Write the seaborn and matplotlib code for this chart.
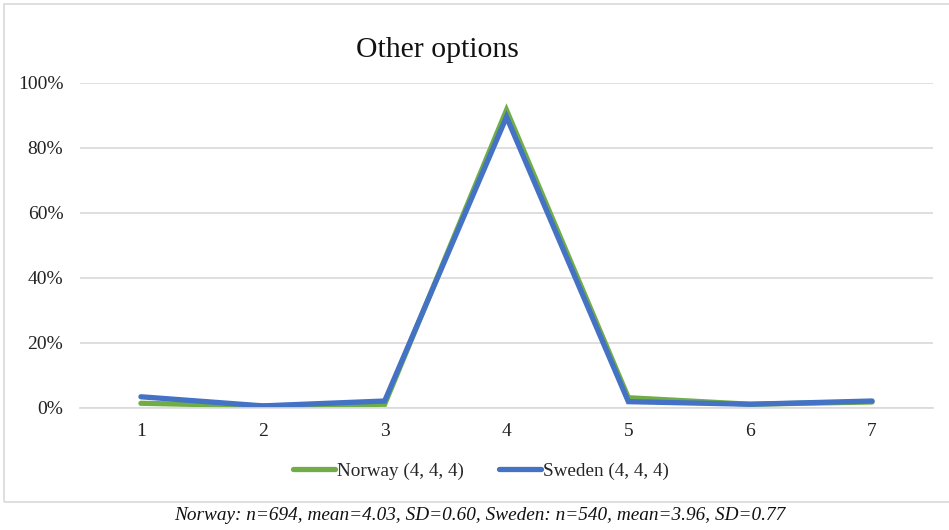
import matplotlib
matplotlib.use("Agg")
import matplotlib.pyplot as plt
import matplotlib.patches as mpatches
import seaborn as sns
import pandas as pd
from matplotlib.ticker import PercentFormatter, FixedLocator

# Response scale and share of respondents per answer (%)
scale = [1, 2, 3, 4, 5, 6, 7]
norway = [1.3, 0.5, 1.0, 91.5, 3.0, 1.0, 1.7]
sweden = [3.3, 0.5, 2.0, 89.4, 1.8, 1.0, 2.0]
series_labels = ["Norway (4, 4, 4)", "Sweden (4, 4, 4)"]
title = "Other options"
caption = "Norway: n=694, mean=4.03, SD=0.60, Sweden: n=540, mean=3.96, SD=0.77"

df = pd.DataFrame({
    "scale": scale * 2,
    "share": norway + sweden,
    "country": [series_labels[0]] * len(scale) + [series_labels[1]] * len(scale),
})

sns.set_theme(style="white")
plt.rcParams["font.family"] = ["Liberation Serif", "DejaVu Serif"]

W, H = 949, 530
fig = plt.figure(figsize=(W / 100, H / 100), dpi=100)
ax = fig.add_axes([80 / W, 1 - 407.5 / H, (933 - 80) / W, (407.5 - 82.5) / H])

palette = {series_labels[0]: "#70AD47", series_labels[1]: "#4472C4"}
sns.lineplot(data=df, x="scale", y="share", hue="country", palette=palette,
             sort=False, linewidth=3.8, ax=ax, legend=True,
             solid_capstyle="round", solid_joinstyle="miter")

ax.set_xlim(0.5, 7.5)
ax.set_ylim(0, 100)
ax.xaxis.set_major_locator(FixedLocator(scale))
ax.set_xticklabels([str(s) for s in scale])
ax.yaxis.set_major_locator(FixedLocator([0, 20, 40, 60, 80, 100]))
ax.yaxis.set_major_formatter(PercentFormatter(decimals=0))
ax.grid(axis="y", color="#d9d9d9", linewidth=1.2)
ax.set_axisbelow(True)
for side in ["top", "right", "left"]:
    ax.spines[side].set_visible(False)
ax.spines["bottom"].set_color("#d9d9d9")
ax.spines["bottom"].set_linewidth(1.2)
ax.tick_params(axis="both", length=0, labelsize=14, colors="#222222")
ax.tick_params(axis="y", pad=12)
ax.tick_params(axis="x", pad=11)
ax.set_xlabel("")
ax.set_ylabel("")

handles, labels = ax.get_legend_handles_labels()
ax.legend_.remove()
fig.legend(handles, labels, loc="center", bbox_to_anchor=(481 / W, 1 - 471 / H),
           ncol=2, frameon=False, fontsize=13.8, handlelength=2.2,
           handletextpad=0.1, columnspacing=1.8)

fig.text(437 / W, 1 - 50 / H, title, ha="center", va="center", fontsize=21.4,
         color="#111111")
fig.text(480 / W, 1 - 516 / H, caption, ha="center", va="center", fontsize=13.9,
         style="italic", color="#111111")

fig.patches.append(mpatches.Rectangle((4 / W, 1 - 502 / H), (W + 10) / W, 498 / H,
                                      transform=fig.transFigure, fill=False,
                                      edgecolor="#d9d9d9", linewidth=1.2))

fig.savefig("out.png", dpi=100)
